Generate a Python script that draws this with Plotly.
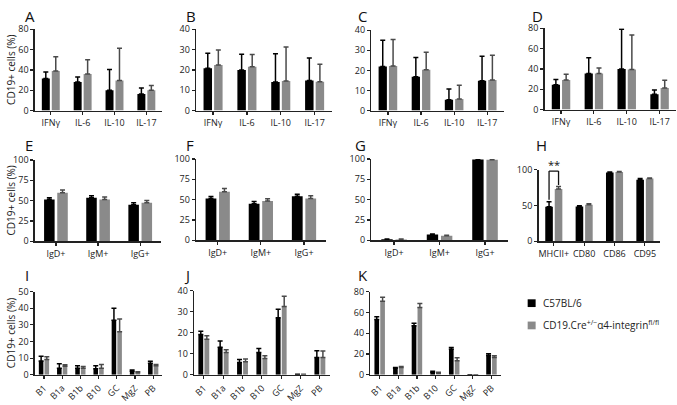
import plotly.graph_objects as go

# ---------------- data ----------------
cyto_cats = ["IFNγ", "IL-6", "IL-10", "IL-17"]
ig_cats = ["IgD+", "IgM+", "IgG+"]
act_cats = ["MHCII+", "CD80", "CD86", "CD95"]
sub_cats = ["B1", "B1a", "B1b", "B10", "GC", "MgZ", "PB"]

series_names = ["C57BL/6", "CD19.Cre<sup>+/−</sup>α4-integrin<sup>fl/fl</sup>"]

A_wt = [31.5, 28, 20, 16.4];      A_wt_err = [6.5, 5, 20.5, 5.8]
A_ko = [39, 36, 29.6, 20];        A_ko_err = [14, 14, 31.8, 4.6]
B_wt = [20.8, 20, 14, 14.8];      B_wt_err = [7.4, 7.7, 13.9, 11]
B_ko = [22.4, 21.6, 14.5, 14.2];  B_ko_err = [7.4, 6, 16.8, 8.6]
C_wt = [21.9, 16.8, 5.4, 14.9];   C_wt_err = [13.1, 9.6, 5.3, 12.1]
C_ko = [22.2, 20.3, 5.8, 15.2];   C_ko_err = [13.2, 8.7, 6.8, 12.3]
D_wt = [24.5, 35.5, 40, 15];      D_wt_err = [5, 15.5, 39, 4.3]
D_ko = [29, 35.5, 39.5, 21.3];    D_ko_err = [5.7, 5.4, 34, 7.5]
E_wt = [51.2, 53.6, 44.8];        E_wt_err = [2.4, 2.4, 2.4]
E_ko = [59.5, 51.2, 47.2];        E_ko_err = [3.5, 3.2, 2.8]
F_wt = [51.4, 45, 54.2];          F_wt_err = [2.4, 2.8, 2.4]
F_ko = [59.8, 48.2, 51.4];        F_ko_err = [3.9, 2.8, 3.2]
G_wt = [1.2, 7.1, 99.2];          G_wt_err = [0.5, 0.7, 0.6]
G_ko = [1.0, 5.5, 99.0];          G_ko_err = [0.5, 0.8, 0.6]
H_wt = [48, 48.5, 96, 86];        H_wt_err = [7, 1, 0.5, 1.5]
H_ko = [73, 51, 96.5, 87.5];      H_ko_err = [3.5, 1.5, 0.8, 0.8]
I_wt = [8.3, 4, 4, 3.7, 32.7, 2.1, 6.9];    I_wt_err = [2.9, 2.7, 1.4, 1.7, 7.3, 0.8, 1.2]
I_ko = [9.2, 5.2, 4, 4, 25.8, 1.3, 5.4];    I_ko_err = [1.6, 0.8, 1, 2.2, 7.7, 0.6, 0.8]
J_wt = [19.2, 13.1, 5.8, 10.6, 27.1, 0.2, 8.2];  J_wt_err = [1.5, 2.9, 1.5, 1.9, 4.1, 0.1, 3.2]
J_ko = [16.9, 10.6, 6.2, 7.8, 32.4, 0.2, 8.2];   J_ko_err = [1.7, 1.3, 1.3, 1.2, 4.9, 0.1, 3.1]
K_wt = [53.2, 6.2, 47.1, 2.5, 24.6, 0, 18.5];    K_wt_err = [2.5, 0.8, 2.4, 0.9, 1.6, 0, 1.8]
K_ko = [70.8, 7, 64.6, 1.5, 13.5, 0, 16.6];      K_ko_err = [3.7, 1, 4, 1, 2.8, 0, 1.6]

y_title = "CD19+ cells (%)"
sig_label = "**"

# ---------------- layout geometry (pixels) ----------------
W, H = 677, 405
FONT = "Open Sans"
BLACK = "#000000"
GRAY = "#8a8a8a"
GRAY_ERR = "#4a4a4a"
AXC = "#222222"

# (letter, cats, wt, wt_err, ko, ko_err, ymax, dtick, x0, x1, ytop, ybot, letter_x, letter_y, tickangle)
panels = [
    ("A", cyto_cats, A_wt, A_wt_err, A_ko, A_ko_err, 80, 20, 32, 160, 23, 107, 20, 9, 0),
    ("B", cyto_cats, B_wt, B_wt_err, B_ko, B_ko_err, 40, 10, 194, 330, 23, 107, 182, 9, 0),
    ("C", cyto_cats, C_wt, C_wt_err, C_ko, C_ko_err, 40, 10, 370, 503, 24, 107, 355, 9, 0),
    ("D", cyto_cats, D_wt, D_wt_err, D_ko, D_ko_err, 80, 20, 544, 676, 22, 106, 529, 9, 0),
    ("E", ig_cats, E_wt, E_wt_err, E_ko, E_ko_err, 100, 25, 32, 159, 158, 242, 20, 143, 0),
    ("F", ig_cats, F_wt, F_wt_err, F_ko, F_ko_err, 100, 25, 194, 324, 157, 241, 182, 143, 0),
    ("G", ig_cats, G_wt, G_wt_err, G_ko, G_ko_err, 100, 25, 370, 507, 157, 241, 352, 143, 0),
    ("H", act_cats, H_wt, H_wt_err, H_ko, H_ko_err, 100, 50, 538, 660, 168, 242, 533, 143, 0),
    ("I", sub_cats, I_wt, I_wt_err, I_ko, I_ko_err, 50, 10, 32, 160, 294, 380, 20, 277, -45),
    ("J", sub_cats, J_wt, J_wt_err, J_ko, J_ko_err, 40, 10, 192, 328, 293, 380, 180, 277, -45),
    ("K", sub_cats, K_wt, K_wt_err, K_ko, K_ko_err, 80, 20, 369, 500, 294, 380, 355, 277, -45),
]

BARGAP = 0.375
GROUPGAP = 0.2

fig = go.Figure()
layout = dict(
    width=W, height=H,
    margin=dict(l=0, r=0, t=0, b=0, pad=0),
    paper_bgcolor="white", plot_bgcolor="white",
    barmode="group", bargap=BARGAP, bargroupgap=GROUPGAP,
    font=dict(family=FONT, size=9, color=AXC),
    showlegend=False,
)
annotations = []
shapes = []

for i, (letter, cats, wt, wte, ko, koe, ymax, dt, x0, x1, yt, yb, lx, ly, ang) in enumerate(panels):
    n = "" if i == 0 else str(i + 1)
    xa, ya = "x" + n, "y" + n
    fig.add_trace(go.Bar(
        x=cats, y=wt, name=series_names[0], marker=dict(color=BLACK, line=dict(width=0)),
        error_y=dict(type="data", symmetric=False, array=wte, arrayminus=[0] * len(wte),
                     color=BLACK, thickness=1.5, width=2.5),
        xaxis=xa, yaxis=ya, hoverinfo="skip",
    ))
    fig.add_trace(go.Bar(
        x=cats, y=ko, name=series_names[1], marker=dict(color=GRAY, line=dict(width=0)),
        error_y=dict(type="data", symmetric=False, array=koe, arrayminus=[0] * len(koe),
                     color=GRAY_ERR, thickness=1.5, width=2.5),
        xaxis=xa, yaxis=ya, hoverinfo="skip",
    ))
    layout["xaxis" + n] = dict(
        domain=[x0 / W, x1 / W], anchor=ya, type="category",
        showline=True, linecolor=AXC, linewidth=1.5,
        ticks="outside", ticklen=3, tickwidth=1.2, tickcolor=AXC,
        showgrid=False, zeroline=False, tickangle=ang, fixedrange=True,
        tickfont=dict(family=FONT, size=9, color=AXC),
    )
    layout["yaxis" + n] = dict(
        domain=[1 - yb / H, 1 - yt / H], anchor=xa, range=[0, ymax], dtick=dt,
        showline=True, linecolor=AXC, linewidth=1.5,
        ticks="outside", ticklen=3, tickwidth=1.2, tickcolor=AXC,
        showgrid=False, zeroline=False, fixedrange=True,
        tickfont=dict(family=FONT, size=9, color=AXC),
    )
    annotations.append(dict(
        text=letter, x=lx / W, y=1 - ly / H, xref="paper", yref="paper",
        xanchor="left", yanchor="middle", showarrow=False,
        font=dict(family=FONT, size=15, color="#111111"),
    ))

# y-axis titles on first column
for yc in (65, 200, 337):
    annotations.append(dict(
        text=y_title, x=8 / W, y=1 - yc / H, xref="paper", yref="paper",
        xanchor="center", yanchor="middle", textangle=-90, showarrow=False,
        font=dict(family=FONT, size=10, color=AXC),
    ))

# significance bracket in panel H (MHCII+): from black bar to gray bar
hn = "8"
slot = (1 - BARGAP) / 2
off = slot / 2
xl, xr = -off, off
bracket_top = 98
yl = H_wt[0] + H_wt_err[0] + 3
yr = H_ko[0] + H_ko_err[0] + 2
for (xa0, ya0, xa1, ya1) in [(xl, yl, xl, bracket_top), (xl, bracket_top, xr, bracket_top), (xr, bracket_top, xr, yr)]:
    shapes.append(dict(type="line", xref="x" + hn, yref="y" + hn, x0=xa0, y0=ya0, x1=xa1, y1=ya1,
                       line=dict(color="#111111", width=1.3)))
annotations.append(dict(
    text=sig_label, x=0, y=bracket_top, xref="x" + hn, yref="y" + hn,
    xanchor="center", yanchor="bottom", showarrow=False, yshift=-3,
    font=dict(family=FONT, size=11, color="#111111"),
))

# legend (keys + labels)
legend_colors = [BLACK, GRAY]
legend_rows = [306, 329]
for name, col, yc in zip(series_names, legend_colors, legend_rows):
    shapes.append(dict(type="rect", xref="paper", yref="paper",
                       x0=527 / W, x1=535 / W, y0=1 - (yc + 4) / H, y1=1 - (yc - 4) / H,
                       fillcolor=col, line=dict(width=0)))
    annotations.append(dict(
        text=name, x=540 / W, y=1 - yc / H, xref="paper", yref="paper",
        xanchor="left", yanchor="middle", showarrow=False,
        font=dict(family=FONT, size=10, color=AXC),
    ))

layout["annotations"] = annotations
layout["shapes"] = shapes
fig.update_layout(**layout)
fig.write_html(
    "out.html",
    config={"displayModeBar": False, "staticPlot": True},
    post_script="document.body.style.margin='0px';document.body.style.overflow='hidden';",
)
